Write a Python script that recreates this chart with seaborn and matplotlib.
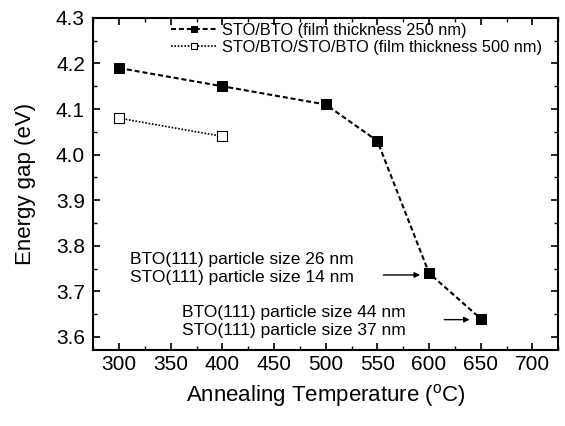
import matplotlib
matplotlib.use('Agg')
import matplotlib.pyplot as plt
import seaborn as sns
from matplotlib.ticker import MultipleLocator, FormatStrFormatter

# data
temp_250 = [300, 400, 500, 550, 600, 650]
gap_250 = [4.19, 4.15, 4.11, 4.03, 3.74, 3.64]
temp_500 = [300, 400]
gap_500 = [4.08, 4.04]

label_250 = 'STO/BTO (film thickness 250 nm)'
label_500 = 'STO/BTO/STO/BTO (film thickness 500 nm)'

sns.set_theme(style='ticks')
plt.rcParams['font.family'] = ['Liberation Sans', 'DejaVu Sans']
plt.rcParams['mathtext.default'] = 'regular'
for key in ['text.color', 'axes.labelcolor', 'xtick.color', 'ytick.color', 'axes.edgecolor']:
    plt.rcParams[key] = 'black'

fig = plt.figure(figsize=(5.65, 4.26), dpi=100)
ax = fig.add_axes([0.165, 0.178, 0.823, 0.780])

sns.lineplot(x=temp_250, y=gap_250, ax=ax, color='black', linestyle=(0, (2.4, 1.4)),
             linewidth=1.5, marker='s', markersize=7, markeredgecolor='black',
             markerfacecolor='black', label=label_250)
sns.lineplot(x=temp_500, y=gap_500, ax=ax, color='black', linestyle=(0, (1, 1)),
             linewidth=1.2, marker='s', markersize=7, markeredgecolor='black',
             markerfacecolor='white', markeredgewidth=0.8, label=label_500)

ax.set_xlim(275, 725)
ax.set_ylim(3.571, 4.3)
ax.xaxis.set_major_locator(MultipleLocator(50))
ax.xaxis.set_minor_locator(MultipleLocator(25))
ax.yaxis.set_major_locator(MultipleLocator(0.1))
ax.yaxis.set_minor_locator(MultipleLocator(0.05))
ax.yaxis.set_major_formatter(FormatStrFormatter('%.1f'))
ax.tick_params(which='both', direction='in', top=True, right=True, labelsize=15)
ax.tick_params(axis='y', which='major', pad=6)
ax.tick_params(which='major', length=5, width=1.2)
ax.tick_params(which='minor', length=3, width=1.0)
for s in ax.spines.values():
    s.set_linewidth(1.5)

ax.set_xlabel('Annealing Temperature ($^{o}$C)', fontsize=16, labelpad=6)
ax.set_ylabel('Energy gap (eV)', fontsize=16, labelpad=14)

ax.legend(loc='upper center', bbox_to_anchor=(0.566, 1.015), frameon=False,
          fontsize=11.8, handlelength=2.8, handletextpad=0.3, labelspacing=0.15,
          borderaxespad=0.2, markerscale=0.6)

ax.text(311, 3.750, 'BTO(111) particle size 26 nm\nSTO(111) particle size 14 nm',
        fontsize=12.5, va='center', ha='left', linespacing=1.25)
ax.annotate('', xy=(594, 3.736), xytext=(553, 3.736),
            arrowprops=dict(arrowstyle='-|>', color='black', lw=1, mutation_scale=8))
ax.text(361, 3.633, 'BTO(111) particle size 44 nm\nSTO(111) particle size 37 nm',
        fontsize=12.5, va='center', ha='left', linespacing=1.25)
ax.annotate('', xy=(642, 3.638), xytext=(612, 3.638),
            arrowprops=dict(arrowstyle='-|>', color='black', lw=1, mutation_scale=8))

fig.savefig('out.png', dpi=100)
